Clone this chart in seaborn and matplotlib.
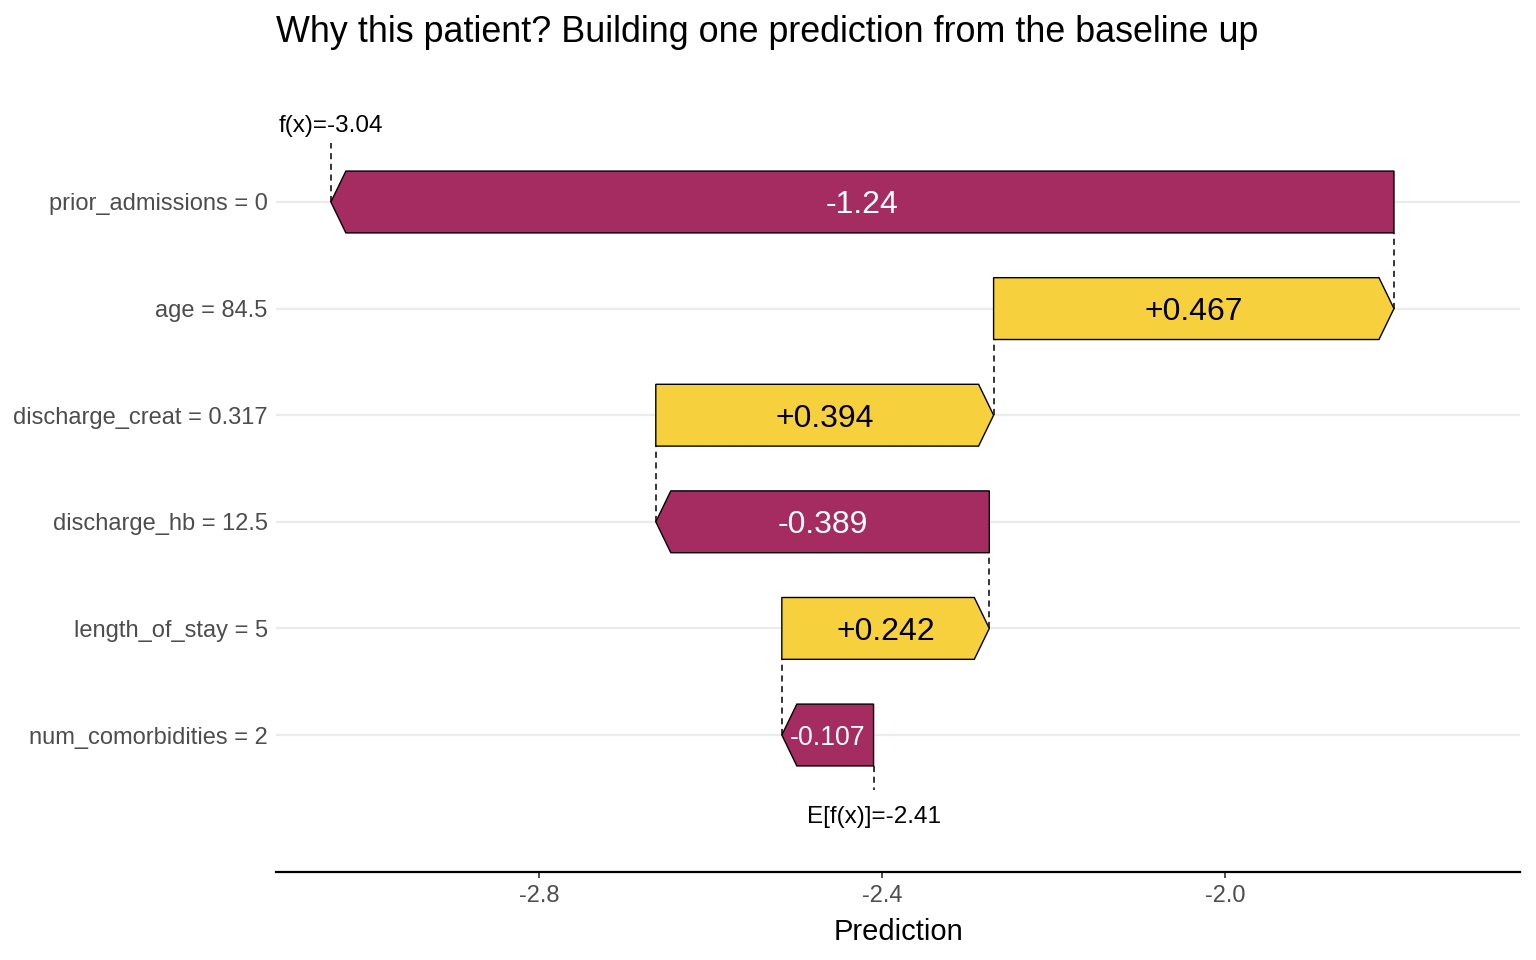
import numpy as np
import pandas as pd
import seaborn as sns
import matplotlib.pyplot as plt
from matplotlib.patches import Polygon

# data (bottom row first, as the waterfall is built from the baseline up)
features = ["num_comorbidities = 2", "length_of_stay = 5", "discharge_hb = 12.5",
            "discharge_creat = 0.317", "age = 84.5", "prior_admissions = 0"]
shap_vals = [-0.107, 0.242, -0.389, 0.394, 0.467, -1.24]
shap_labels = ["-0.107", "+0.242", "-0.389", "+0.394", "+0.467", "-1.24"]
baseline = -2.41
fx_label = "f(x)=-3.04"
base_label = "E[f(x)]=-2.41"

sns.set_theme(style="white")
plt.rcParams['font.family'] = ['Liberation Sans', 'DejaVu Sans']

pos_col = "#f7d13d"
neg_col = "#a52c60"
dash = (0, (4, 3))

df = pd.DataFrame({"feature": features, "shap": shap_vals, "label": shap_labels})
df["end"] = baseline + df["shap"].cumsum()
df["start"] = df["end"] - df["shap"]
df["y"] = np.arange(1, len(df) + 1)
fx = df["end"].iloc[-1]

fig = plt.figure(figsize=(15.36, 9.6), dpi=100)
ax = fig.add_axes([276 / 1536, 88 / 960, 1244 / 1536, 812 / 960])
ax.set_xlim(-3.107, -1.656)
ax.set_ylim(-0.285, 7.332)

# grid lines at each feature row
for y in df["y"]:
    ax.axhline(y, color="#ebebeb", lw=1.6, zorder=0)

h = 0.29
head = 0.0175

# dashed connectors between consecutive bars
for i in range(len(df) - 1):
    ax.plot([df["end"].iloc[i]] * 2, [df["y"].iloc[i], df["y"].iloc[i + 1] - h],
            ls=dash, color="black", lw=1.1, zorder=1)
ax.plot([baseline, baseline], [1 - h, 0.484], ls=dash, color="black", lw=1.1, zorder=1)
ax.plot([fx, fx], [len(df), 6.55], ls=dash, color="black", lw=1.1, zorder=1)

fig.canvas.draw()
renderer = fig.canvas.get_renderer()
px_per_unit = ax.transData.transform((1, 0))[0] - ax.transData.transform((0, 0))[0]

for _, r in df.iterrows():
    s, e, y = r["start"], r["end"], r["y"]
    d = np.sign(e - s)
    hl = min(head, abs(e - s))
    pts = [(s, y - h), (e - d * hl, y - h), (e, y), (e - d * hl, y + h), (s, y + h)]
    col = pos_col if r["shap"] > 0 else neg_col
    ax.add_patch(Polygon(pts, closed=True, facecolor=col, edgecolor="black",
                         lw=1, zorder=2))
    t = ax.text((s + e) / 2, y, r["label"], ha="center", va="center_baseline",
                fontsize=23, color="black" if r["shap"] > 0 else "white", zorder=3)
    # shrink label to fit a short bar
    avail = abs(e - s) * px_per_unit - 16
    w = t.get_window_extent(renderer).width
    if w > avail:
        t.set_fontsize(23 * avail / w)

ax.text(fx, 6.74, fx_label, ha="center", va="center_baseline", fontsize=17.5, color="black")
ax.text(baseline, 0.25, base_label, ha="center", va="center_baseline", fontsize=17.5,
        color="black")

ax.set_yticks(df["y"])
ax.set_yticklabels(df["feature"])
ax.set_xticks([-2.8, -2.4, -2.0])
ax.set_xticklabels(["-2.8", "-2.4", "-2.0"])
ax.tick_params(axis="x", length=4, width=1.2, color="#333333", labelcolor="#4d4d4d",
               labelsize=17, pad=5, bottom=True)
ax.tick_params(axis="y", length=0, labelcolor="#4d4d4d", labelsize=17, pad=6)
sns.despine(ax=ax, left=True, top=True, right=True)
ax.spines["bottom"].set_color("black")
ax.spines["bottom"].set_linewidth(1.6)
ax.set_xlabel("Prediction", fontsize=21, color="black", labelpad=8)
ax.set_ylabel("")

fig.text(276 / 1536, 1 - 28 / 960,
         "Why this patient? Building one prediction from the baseline up",
         fontsize=25.8, ha="left", va="center_baseline", color="black")

fig.savefig("out.png", dpi=100)
